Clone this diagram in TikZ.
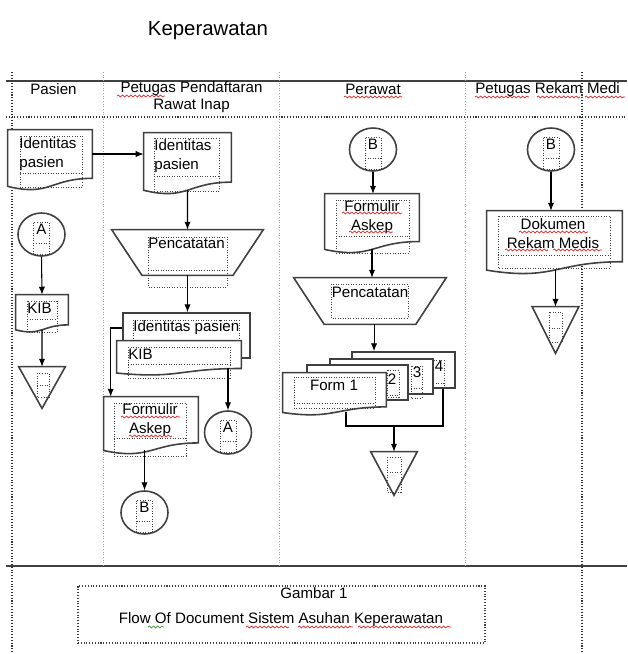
\documentclass[tikz,border=0pt]{standalone}
\usepackage{fontspec}
\setmainfont{Liberation Sans}
\usetikzlibrary{arrows.meta,calc,fit,shapes.geometric,decorations.pathmorphing}
\definecolor{edge}{HTML}{404040}
\definecolor{lane}{HTML}{7FA7DB}
\definecolor{spell}{HTML}{E02828}
\definecolor{gram}{HTML}{3A9A3A}

\tikzset{
  lbl/.style={inner sep=0pt, font=\fontsize{8.6}{10.8}\selectfont},
  shp/.style={draw=edge, line width=0.9pt, fill=white},
  page/.style={shp, inner sep=0pt},
  arr/.style={-{Latex[length=4.5pt,width=3.6pt]}, line width=0.6pt},
  link/.style={line width=0.6pt},
  txtframe/.style={densely dotted, line width=0.45pt, black!75},
  squig/.style={spell, line width=0.4pt, decorate, decoration={snake, segment length=2.4pt, amplitude=0.55pt}},
  rule/.style={edge, line width=1.1pt},
  hdots/.style={densely dotted, line width=0.6pt, black!80},
  lanedots/.style={densely dotted, line width=0.5pt, lane}
}

\begin{document}
\begin{tikzpicture}[x=0.02cm, y=-0.02cm]
  \useasboundingbox (0,0) rectangle (627,654);
  \fill[white] (0,0) rectangle (627,654);

  \newcommand{\docshape}[5]{% name, x, y, w, h
    \node[fit={(#2,#3) ({#2+#4},{#3+#5})}, inner sep=0pt] (#1) {};
    \draw[shp] (#1.north west) -- (#1.north east) -- ($(#1.north east)!0.802!(#1.south east)$)
      .. controls ($(#1.north)!0.802!(#1.south)$) and ($(#1.north)!1.1075!(#1.south)$)
      .. ($(#1.north west)!0.934!(#1.south west)$) -- cycle;
    \coordinate (#1-b) at ($(#1.north)!0.933!(#1.south)$);
    \coordinate (#1-se) at ($(#1.north east)!0.802!(#1.south east)$);}
  \newcommand{\manshape}[5]{% name, x1, y1, x2, y2
    \node[fit={(#2,#3) (#4,#5)}, inner sep=0pt] (#1) {};
    \draw[shp] (#1.north west) -- (#1.north east) -- ($(#1.south east)!0.2!(#1.south west)$)
      -- ($(#1.south west)!0.2!(#1.south east)$) -- cycle;}
  \newcommand{\mergeshape}[4]{% name, cx, top, height
    \node[fit={({#2-23},#3) ({#2+23},{#3+#4})}, inner sep=0pt] (#1) {};
    \draw[shp] (#1.north west) -- (#1.north east) -- (#1.south) -- cycle;}
  \newcommand{\connshape}[4]{% name, cx, cy, letter
    \node[shp, ellipse, minimum width=0.94cm, minimum height=0.86cm, inner sep=0pt] (#1) at (#2,#3) {};
    \draw[txtframe] ($(#1.center)+(-8,-12)$) rectangle ($(#1.center)+(8,20)$);
    \draw[txtframe] ($(#1.center)+(-8,9)$) -- ($(#1.center)+(8,9)$);
    \node[lbl] (#1-t) at ([yshift=3pt]#1.center) {#4};}
  \newcommand{\tframe}[5]{%
    \draw[txtframe] (#1,#2) rectangle (#3,#4);
    \draw[txtframe] (#1,#5) -- (#3,#5);}

  % title
  \node[lbl, font=\fontsize{11.6}{14}\selectfont] (title) at (208,31) {Keperawatan};

  % swimlanes
  \draw[rule] (6,81) -- (627,81);
  \draw[rule] (6,566) -- (627,566);
  \draw[hdots] (6,117) -- (627,117);
  \draw[hdots] (12,72) -- (12,654);
  \draw[hdots] (582,72) -- (582,654);
  \foreach \x in {103,279,465}
    \draw[lanedots] (\x,72) -- (\x,566);

  \node[lbl] (hpas) at (53.5,89) {Pasien};
  \node[lbl, align=center, font=\fontsize{8.6}{9.7}\selectfont] (hpend) at (191.5,97.5) {Petugas Pendaftaran\\Rawat Inap};
  \node[lbl] (hper) at (373,89.5) {Perawat};
  \node[lbl, anchor=west] (hrm) at (475,89.5) {Petugas Rekam Medi};

  % Pasien
  \docshape{pid}{8}{130}{84}{60}
  \tframe{20}{136}{82}{187}{173}
  \node[lbl, align=left, anchor=west] (pidt) at (19,154) {Identitas\\pasien};
  \connshape{pa}{41.5}{234.5}{A}
  \docshape{pkib}{16}{295}{52}{37}
  \tframe{27}{301}{57}{332}{319}
  \node[lbl, anchor=west] (pkibt) at (27,308) {KIB};
  \mergeshape{ptri}{42}{367}{41}
  \tframe{37}{373}{49}{397}{385}

  % Petugas Pendaftaran
  \docshape{fid}{144}{133}{87}{61}
  \tframe{154}{138}{219}{191}{176}
  \node[lbl, align=left, anchor=west] (fidt) at (154,156) {Identitas\\pasien};
  \manshape{fcat}{112}{230}{263}{275}
  \tframe{148}{237}{227}{287}{270}
  \node[lbl, anchor=west] (fcatt) at (148,243) {Pencatatan};
  \node[page, fit={(123,313) (250,358)}] (fback) {};
  \draw[txtframe] (133,320) rectangle (239,340);
  \node[lbl, anchor=west] (fbackt) at (133,328) {Identitas pasien};
  \docshape{fkib}{117}{341}{124}{34}
  \tframe{128}{347}{230}{378}{364}
  \node[lbl, anchor=west] (fkibt) at (128,354) {KIB};
  \docshape{fform}{104}{397}{94}{57}
  \tframe{114}{403}{186}{456}{438}
  \node[lbl, align=center] (fformt) at (150,420.5) {Formulir\\Askep};
  \connshape{fa}{228}{432.5}{A}
  \connshape{fb}{144.5}{512.5}{B}

  % Perawat
  \connshape{rb}{373}{149.5}{B}
  \docshape{rform}{325}{194}{94}{59}
  \tframe{336}{200}{409}{253}{236}
  \node[lbl, align=center] (rformt) at (372,217.5) {Formulir\\Askep};
  \manshape{rcat}{294}{278}{446}{324}
  \draw[txtframe] (331,284) rectangle (408,318);
  \node[lbl] (rcatt) at (370,292) {Pencatatan};
  \node[page, fit={(352,352) (455,388)}] (rp4) {};
  \tframe{433}{360}{444}{388}{383}
  \node[lbl] (rp4t) at (439,366) {4};
  \node[page, fit={(330,359) (433,394)}] (rp3) {};
  \tframe{411}{366}{422}{398}{388}
  \node[lbl] (rp3t) at (417,372) {3};
  \node[page, fit={(307,365) (408,400)}] (rp2) {};
  \tframe{387}{370}{399}{397}{395}
  \node[lbl] (rp2t) at (392,379) {2};
  \docshape{rp1}{283}{373}{103}{42}
  \tframe{294}{377}{375}{408}{403}
  \node[lbl] (rp1t) at (334,385) {Form 1};
  \mergeshape{rtri}{394}{452}{43}
  \tframe{387}{457}{401}{492}{472}

  % Petugas Rekam Medis
  \connshape{mb}{551}{149.5}{B}
  \docshape{mdok}{487}{211}{135}{63}
  \tframe{498}{216}{610}{268}{255}
  \node[lbl, align=center] (mdokt) at (553,233.5) {Dokumen\\Rekam Medis};
  \mergeshape{mtri}{555.5}{307}{46}
  \tframe{549}{312}{562}{342}{328}

  % connectors
  \draw[arr] (pid.east |- pidt) -- (fid.west |- pidt);
  \draw[arr] (pa.south) -- (pkib.north);
  \draw[arr] (pkib-b) -- (ptri.north);
  \draw[arr] (fid-b) -- (fcat.north);
  \draw[arr] (fcat.south) -- (fcat.south |- fback.north);
  \draw[arr] (fback.west |- fbackt) -| ([xshift=4pt]fform.north west);
  \draw[arr] (fa.north |- fkib-se) -- (fa.north);
  \draw[arr] (fb.north |- fform-b) -- (fb.north);
  \draw[arr] (rb.south) -- (rb.south |- rform.north);
  \draw[arr] (rform-b) -- (rform-b |- rcat.north);
  \draw[arr] ([xshift=2.3pt]rcat.south) -- ([xshift=2.3pt]rcat.south |- rp4.north);
  \coordinate (jl) at (346,426);
  \coordinate (jm) at (394,426);
  \coordinate (jr) at (443,426);
  \draw[link] (jl |- rp1-b) -- (jl) -- (jr) -- (jr |- rp4.south);
  \draw[arr] (jm) -- (rtri.north);
  \draw[arr] (mb.south) -- (mb.south |- mdok.north);
  \draw[arr] (mtri.north |- mdok-b) -- (mtri.north);

  % caption
  \node[txtframe, draw, line width=0.6pt, fit={(78,586) (485,643)}, inner sep=0pt] (capbox) {};
  \node[lbl] (cap1) at (314,593) {Gambar 1};
  \node[lbl] (cap2) at (281,620) {Flow Of Document Sistem Asuhan Keperawatan};

  % spelling marks
  \draw[squig] (117,96) -- (165,96);
  \draw[squig] (344,97) -- (402,97);
  \draw[squig] (475,97) -- (529,97);
  \draw[squig] (537,97) -- (580,97);
  \draw[squig] (585,97) -- (625,97);
  \draw[squig] (121,417) -- (180,417);
  \draw[squig] (129,436) -- (172,436);
  \draw[squig] (342,213) -- (402,213);
  \draw[squig] (349,232) -- (393,232);
  \draw[squig] (519,232) -- (588,232);
  \draw[squig] (505,250) -- (548,250);
  \draw[squig] (553,250) -- (602,250);
  \draw[squig, gram] (148,627) -- (164,627);
  \draw[squig] (246,627) -- (289,627);
  \draw[squig] (298,627) -- (353,627);
  \draw[squig] (358,627) -- (451,627);
\end{tikzpicture}
\end{document}
